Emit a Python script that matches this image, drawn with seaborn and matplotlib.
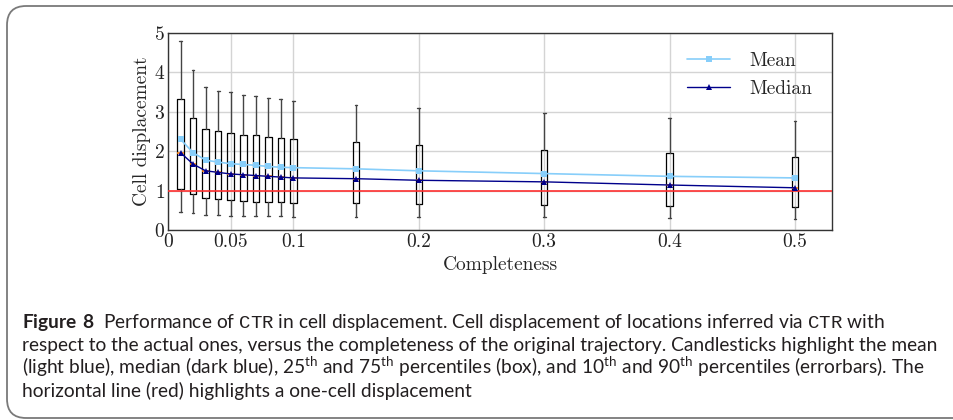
import matplotlib
matplotlib.use("Agg")
import matplotlib.pyplot as plt
import seaborn as sns
import numpy as np
from matplotlib.patches import FancyBboxPatch

## Data ##

completeness = [0.01, 0.02, 0.03, 0.04, 0.05, 0.06, 0.07, 0.08, 0.09, 0.1, 0.15, 0.2, 0.3, 0.4, 0.5]
p10 = [0.46, 0.42, 0.38, 0.37, 0.35, 0.35, 0.35, 0.35, 0.35, 0.34, 0.34, 0.33, 0.33, 0.30, 0.29]
p25 = [1.03, 0.91, 0.80, 0.78, 0.75, 0.73, 0.72, 0.72, 0.71, 0.69, 0.69, 0.67, 0.63, 0.61, 0.58]
p75 = [3.32, 2.84, 2.57, 2.52, 2.45, 2.42, 2.40, 2.35, 2.33, 2.31, 2.23, 2.16, 2.04, 1.94, 1.85]
p90 = [4.78, 4.06, 3.63, 3.53, 3.49, 3.43, 3.39, 3.34, 3.31, 3.26, 3.17, 3.09, 2.97, 2.85, 2.77]
mean = [2.30, 1.96, 1.77, 1.72, 1.68, 1.66, 1.64, 1.61, 1.59, 1.58, 1.55, 1.50, 1.43, 1.36, 1.32]
median = [1.96, 1.67, 1.50, 1.46, 1.42, 1.40, 1.38, 1.36, 1.34, 1.32, 1.30, 1.26, 1.22, 1.14, 1.07]

xticks = [0, 0.05, 0.1, 0.2, 0.3, 0.4, 0.5]
xticklabels = ["0", "0.05", "0.1", "0.2", "0.3", "0.4", "0.5"]
yticks = [0, 1, 2, 3, 4, 5]

caption = [
    r"$\mathbf{Figure\ 8}$  Performance of $\mathtt{CTR}$ in cell displacement. Cell displacement of locations inferred via $\mathtt{CTR}$ with",
    "respect to the actual ones, versus the completeness of the original trajectory. Candlesticks highlight the mean",
    r"(light blue), median (dark blue), 25$^{\mathrm{th}}$ and 75$^{\mathrm{th}}$ percentiles (box), and 10$^{\mathrm{th}}$ and 90$^{\mathrm{th}}$ percentiles (errorbars). The",
    "horizontal line (red) highlights a one-cell displacement",
]

## Style ##

cap_font = "Lato"
sns.set_style("whitegrid")
plt.rcParams["font.family"] = ["cmr10", "DejaVu Serif"]
plt.rcParams["axes.formatter.use_mathtext"] = True
plt.rcParams["mathtext.fontset"] = "custom"
plt.rcParams["mathtext.rm"] = cap_font
plt.rcParams["mathtext.bf"] = cap_font + ":bold"
plt.rcParams["mathtext.tt"] = "Liberation Mono"

fig = plt.figure(figsize=(9.54, 4.2), dpi=100)
ax = fig.add_axes([168 / 954, 1 - 230 / 420, (832 - 168) / 954, (230 - 32.7) / 420])

## Boxes ##

stats = []
for i in range(len(completeness)):
    stats.append({"med": median[i], "q1": p25[i], "q3": p75[i],
                  "whislo": p10[i], "whishi": p90[i], "fliers": []})

ax.bxp(stats, positions=completeness, widths=0.0052, capwidths=0.0022,
       showfliers=False, manage_ticks=False,
       boxprops=dict(color="black", linewidth=0.9),
       whiskerprops=dict(color="#444444", linewidth=1.0),
       capprops=dict(color="#444444", linewidth=1.0),
       medianprops=dict(color="#ff7f0e", linewidth=1.2))

## Lines ##

ax.axhline(1, color="#ff3030", linewidth=1.2, zorder=3)
sns.lineplot(x=completeness, y=mean, marker="s", markersize=5, color="#87cefa",
             markeredgewidth=0, linewidth=1.2, label="Mean", ax=ax, zorder=4)
sns.lineplot(x=completeness, y=median, marker="^", markersize=5, color="#00008b",
             markeredgewidth=0, linewidth=1.0, label="Median", ax=ax, zorder=5)

ax.set_xlim(0, 0.5295)
ax.set_ylim(0, 5)
ax.set_xticks(xticks)
ax.set_xticklabels(xticklabels)
ax.set_yticks(yticks)
ax.tick_params(labelsize=14, length=3, direction="in", pad=2, colors="#222222")
ax.set_xlabel("Completeness", fontsize=14, labelpad=4)
ax.set_ylabel("Cell displacement", fontsize=14, labelpad=2)
ax.grid(color="#d4d4d4", linewidth=1.0)
for s in ax.spines.values():
    s.set_color("#333333")
    s.set_linewidth(1.0)

ax.legend(loc="upper right", frameon=False, fontsize=14, handlelength=2.2,
          handletextpad=1.0, labelspacing=0.5, borderaxespad=0.6)

## Caption ##

renderer = fig.canvas.get_renderer()
probe = fig.text(0, 0, caption[1], fontsize=11, family=cap_font)
w = probe.get_window_extent(renderer).width
probe.remove()
csize = 11 * 913 / w

baselines = [328, 351, 374, 397]
for line, yb in zip(caption, baselines):
    fig.text(22 / 954, 1 - yb / 420, line, fontsize=csize, family=cap_font,
             color="#231f20", va="baseline", ha="left")

frame = FancyBboxPatch((7 / 954, 1 - 418 / 420), 1.2, (418 - 6) / 420,
                       boxstyle="round,pad=0,rounding_size=0.02",
                       transform=fig.transFigure, fill=False,
                       edgecolor="#7a7a7a", linewidth=1.3, clip_on=False,
                       mutation_aspect=954 / 420)
fig.patches.append(frame)

plt.savefig("out.png", dpi=100)
